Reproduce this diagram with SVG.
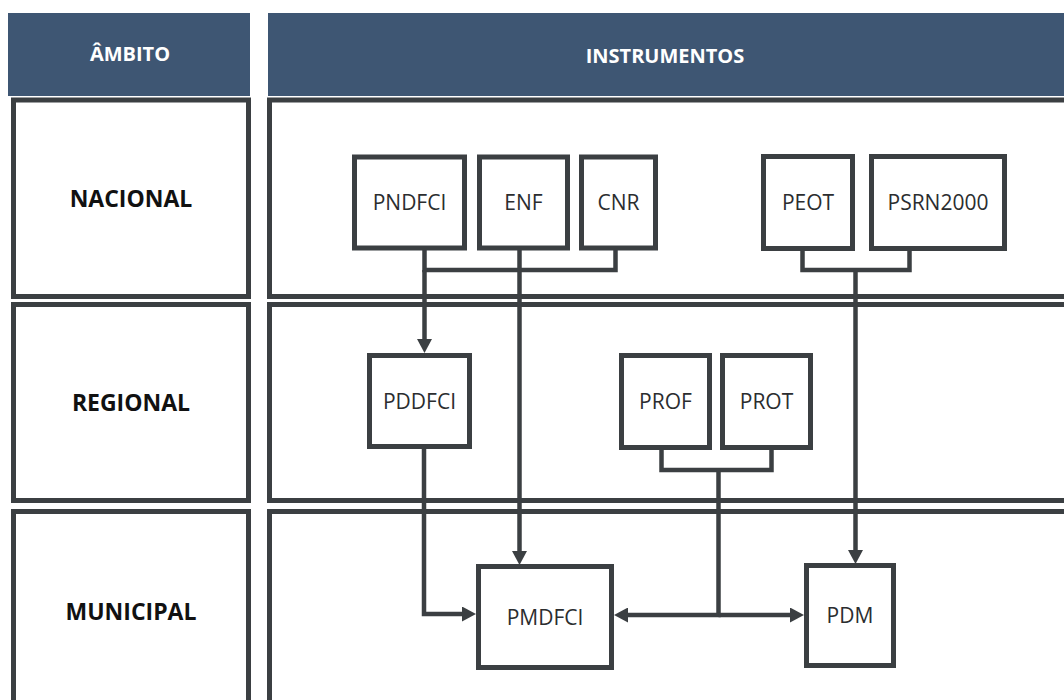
<svg xmlns="http://www.w3.org/2000/svg" width="1064" height="700" viewBox="0 0 1064 700">
  <style>
    .hdr { fill: #3e5673; }
    .hdr-text { font-family: "Open Sans", "Liberation Sans", sans-serif; font-weight: bold; font-size: 20px; fill: #ffffff; text-anchor: middle; }
    .band { fill: #ffffff; stroke: #3b3f42; stroke-width: 5; }
    .band-text { font-family: "Open Sans", "Liberation Sans", sans-serif; font-weight: bold; font-size: 23px; fill: #111111; text-anchor: middle; }
    .node rect { fill: #ffffff; stroke: #3b3f42; stroke-width: 5; }
    .node text { font-family: "Open Sans", "Liberation Sans", sans-serif; font-size: 21px; fill: #2b2d2f; text-anchor: middle; }
    .link { fill: none; stroke: #3b3f42; stroke-width: 4.5; stroke-linejoin: miter; }
  </style>
  <defs>
    <marker id="arrow" markerUnits="userSpaceOnUse" markerWidth="14" markerHeight="15" refX="7" refY="7.5" orient="auto">
      <path d="M0,0 L14,7.5 L0,15 Z" fill="#3b3f42"/>
    </marker>
  </defs>

  <rect width="1064" height="700" fill="#ffffff"/>

  <!-- column headers -->
  <g id="header-ambito">
    <rect class="hdr" x="8" y="13" width="242" height="83"/>
    <text class="hdr-text" x="130" y="61">ÂMBITO</text>
  </g>
  <g id="header-instrumentos">
    <rect class="hdr" x="268" y="13" width="810" height="83"/>
    <text class="hdr-text" x="665" y="63">INSTRUMENTOS</text>
  </g>

  <!-- scope bands -->
  <g id="band-nacional">
    <rect class="band" x="13.5" y="100" width="235" height="196.5"/>
    <rect class="band" x="269.5" y="100" width="805" height="196.5"/>
    <text class="band-text" x="131" y="207">NACIONAL</text>
  </g>
  <g id="band-regional">
    <rect class="band" x="13.5" y="304.5" width="235" height="196"/>
    <rect class="band" x="269.5" y="304.5" width="805" height="196"/>
    <text class="band-text" x="131" y="411">REGIONAL</text>
  </g>
  <g id="band-municipal">
    <rect class="band" x="13.5" y="511.5" width="235" height="210"/>
    <rect class="band" x="269.5" y="511.5" width="805" height="210"/>
    <text class="band-text" x="131" y="620">MUNICIPAL</text>
  </g>

  <!-- connectors -->
  <g id="connectors">
    <path class="link" d="M424.5 250 V270 H615.5 V250"/>
    <path class="link" d="M424.5 270 V346" marker-end="url(#arrow)"/>
    <path class="link" d="M519.5 250 V558" marker-end="url(#arrow)"/>
    <path class="link" d="M802.5 251 V270 H909.5 V251"/>
    <path class="link" d="M855.5 270 V557" marker-end="url(#arrow)"/>
    <path class="link" d="M424 449 V614 H469" marker-end="url(#arrow)"/>
    <path class="link" d="M661.5 450 V470 H771.5 V450"/>
    <path class="link" d="M718.5 470 V615 H621" marker-end="url(#arrow)"/>
    <path class="link" d="M718.5 615 H797" marker-end="url(#arrow)"/>
  </g>

  <!-- national instruments -->
  <g id="node-pndfci" class="node">
    <rect x="354.5" y="157" width="110" height="91"/>
    <text x="409.5" y="210">PNDFCI</text>
  </g>
  <g id="node-enf" class="node">
    <rect x="479.5" y="157" width="88" height="91"/>
    <text x="523.5" y="210">ENF</text>
  </g>
  <g id="node-cnr" class="node">
    <rect x="581.5" y="157" width="74" height="91"/>
    <text x="618.5" y="210">CNR</text>
  </g>
  <g id="node-peot" class="node">
    <rect x="763.5" y="156.5" width="89" height="92"/>
    <text x="808" y="210">PEOT</text>
  </g>
  <g id="node-psrn2000" class="node">
    <rect x="871.5" y="156.5" width="133" height="92"/>
    <text x="938" y="210">PSRN2000</text>
  </g>

  <!-- regional instruments -->
  <g id="node-pddfci" class="node">
    <rect x="369.5" y="355.5" width="100" height="91"/>
    <text x="419.5" y="409">PDDFCI</text>
  </g>
  <g id="node-prof" class="node">
    <rect x="621.5" y="355.5" width="88" height="92"/>
    <text x="665.5" y="409">PROF</text>
  </g>
  <g id="node-prot" class="node">
    <rect x="722.5" y="355.5" width="88" height="92"/>
    <text x="766.5" y="409">PROT</text>
  </g>

  <!-- municipal instruments -->
  <g id="node-pmdfci" class="node">
    <rect x="478.5" y="566.5" width="133" height="101"/>
    <text x="545" y="625">PMDFCI</text>
  </g>
  <g id="node-pdm" class="node">
    <rect x="806.5" y="565.5" width="87" height="100"/>
    <text x="850" y="623">PDM</text>
  </g>
</svg>
